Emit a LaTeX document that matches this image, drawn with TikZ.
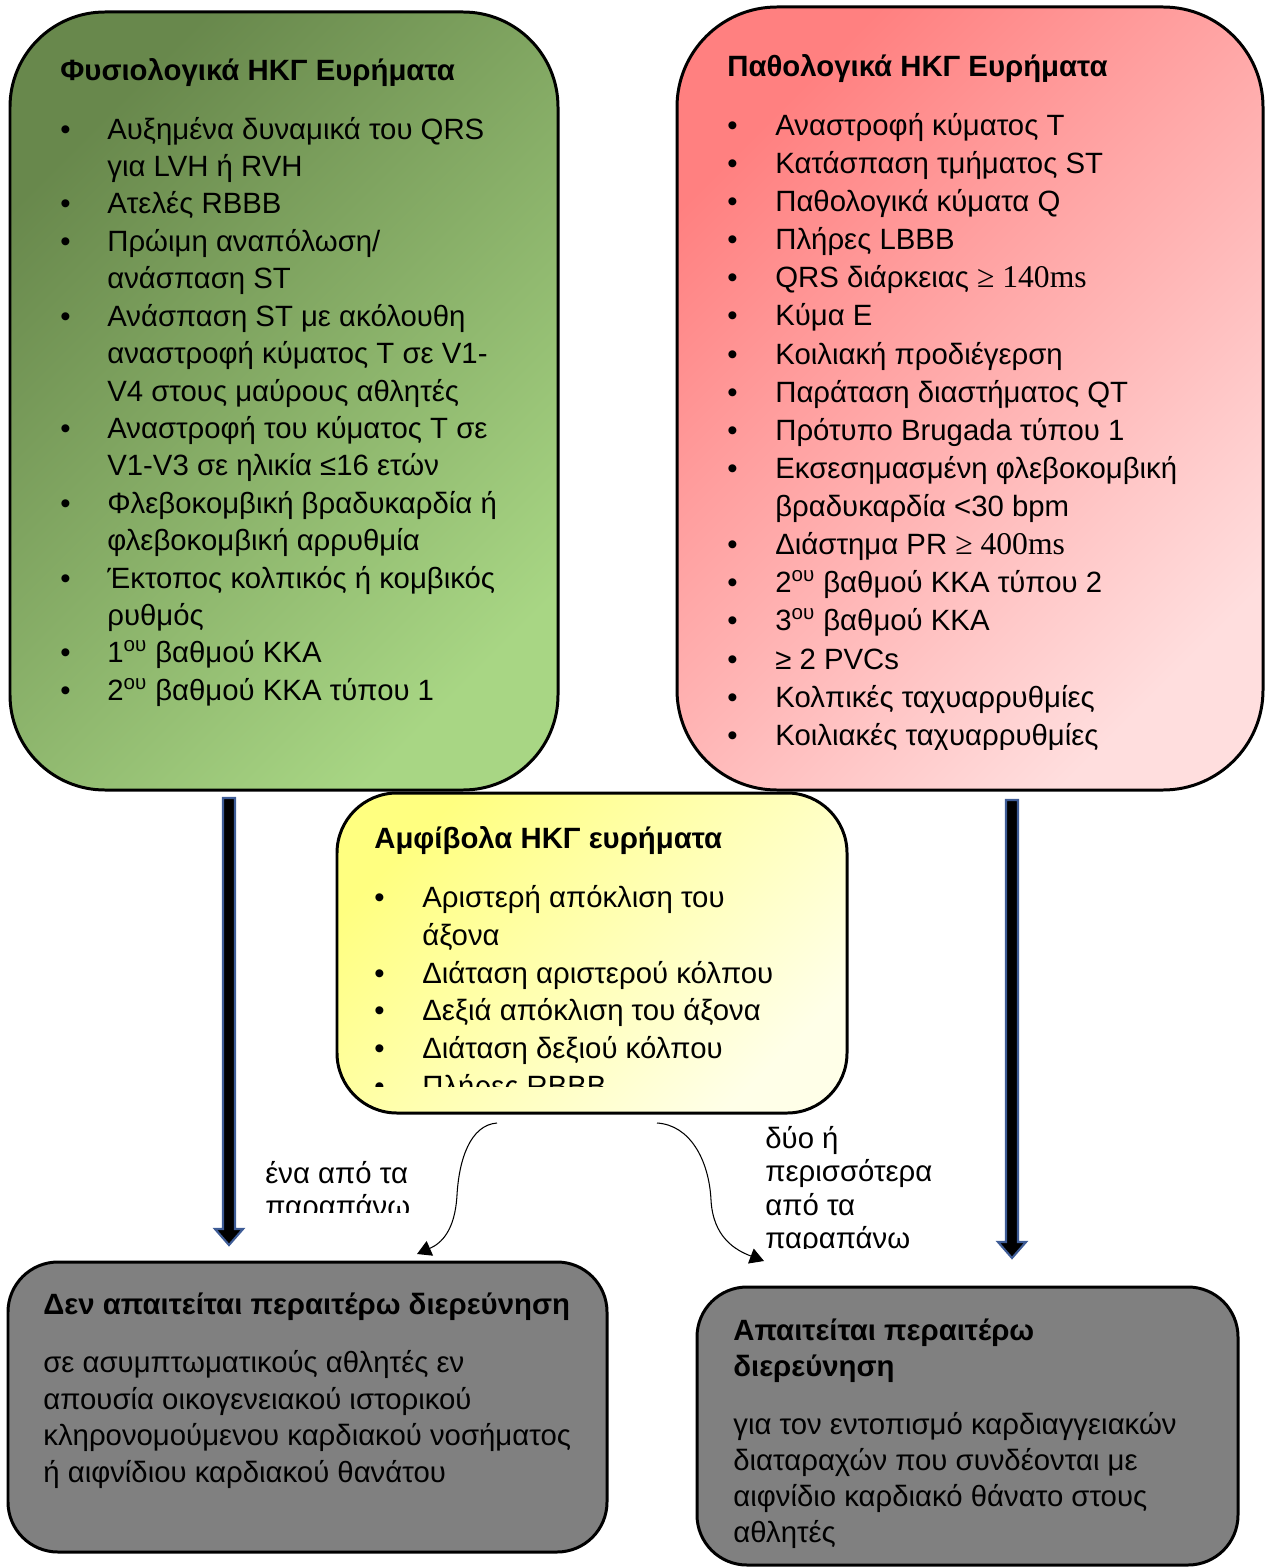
\documentclass[tikz,border=0pt]{standalone}
\usepackage{fontspec}
\setmainfont{Liberation Sans}
\newfontfamily\mathfnt{Liberation Serif}
\usetikzlibrary{fit, calc, arrows.meta}

\definecolor{greendark}{RGB}{104,136,76}
\definecolor{greenlight}{RGB}{168,214,132}
\definecolor{reddark}{RGB}{255,128,128}
\definecolor{redlight}{RGB}{255,222,222}
\definecolor{yeldark}{RGB}{255,255,128}
\definecolor{yellight}{RGB}{255,255,232}
\definecolor{boxgrey}{RGB}{128,128,128}
\definecolor{arrblue}{RGB}{62,92,150}

\tikzset{
  box/.style={draw=black, line width=1.7pt, inner sep=0pt},
  txt/.style={anchor=north west, inner sep=0pt, align=left},
  blockarr/.style={fill=black, draw=arrblue, line width=1.2pt},
  conn/.style={line width=0.6pt, -{Triangle[length=8pt,width=9pt]}},
}
\newcommand{\bl}{\textbullet}
\newcommand{\sz}[1]{\fontsize{16.7}{#1}\selectfont}

\begin{document}
\begin{tikzpicture}[x=0.02cm, y=-0.02cm]
\useasboundingbox (0,0) rectangle (1266,1567);

% boxes
\node[box, rounded corners=1.9cm, fit={(10,12) (558,790)}, top color=greendark, bottom color=greenlight, shading angle=45] (fys) {};
\node[box, rounded corners=2cm, fit={(677,7) (1263,790)}, top color=reddark, bottom color=redlight, shading angle=45] (path) {};
\node[box, rounded corners=1.2cm, fit={(337,793) (847,1113)}, top color=yeldark, bottom color=yellight, shading angle=45] (amf) {};
\node[box, rounded corners=1cm, fit={(8,1262) (607,1552)}, fill=boxgrey] (oxi) {};
\node[box, rounded corners=1cm, fit={(697,1287) (1238,1565)}, fill=boxgrey] (nai) {};

% box texts
\node[txt] (fystxt) at (60,54) {\sz{21.3}%
\begin{tabular}{@{}p{0.94cm}@{}l@{}}
\multicolumn{2}{@{}l@{}}{\bfseries Φυσιολογικά ΗΚΓ Ευρήματα}\\[12pt]
\bl & Αυξημένα δυναμικά του QRS\\
    & για LVH ή RVH\\
\bl & Ατελές RBBB\\
\bl & Πρώιμη αναπόλωση/\\
    & ανάσπαση ST\\
\bl & Ανάσπαση ST με ακόλουθη\\
    & αναστροφή κύματος T σε V1-\\
    & V4 στους μαύρους αθλητές\\
\bl & Αναστροφή του κύματος T σε\\
    & V1-V3 σε ηλικία ≤16 ετών\\
\bl & Φλεβοκομβική βραδυκαρδία ή\\
    & φλεβοκομβική αρρυθμία\\
\bl & Έκτοπος κολπικός ή κομβικός\\
    & ρυθμός\\
\bl & 1\textsuperscript{ου} βαθμού ΚΚΑ\\
\bl & 2\textsuperscript{ου} βαθμού ΚΚΑ τύπου 1\\
\end{tabular}};

\begin{scope}
\clip (677,0) rectangle (1266,749);
\node[txt] (pathtxt) at (727,49) {\sz{21.7}%
\begin{tabular}{@{}p{0.96cm}@{}l@{}}
\multicolumn{2}{@{}l@{}}{\bfseries Παθολογικά ΗΚΓ Ευρήματα}\\[12pt]
\bl & Αναστροφή κύματος T\\
\bl & Κατάσπαση τμήματος ST\\
\bl & Παθολογικά κύματα Q\\
\bl & Πλήρες LBBB\\
\bl & QRS διάρκειας {\mathfnt\fontsize{18}{21.7}\selectfont ≥ 140ms}\\
\bl & Κύμα Ε\\
\bl & Κοιλιακή προδιέγερση\\
\bl & Παράταση διαστήματος QT\\
\bl & Πρότυπο Brugada τύπου 1\\
\bl & Εκσεσημασμένη φλεβοκομβική\\
    & βραδυκαρδία <30 bpm\\
\bl & Διάστημα PR {\mathfnt\fontsize{18}{21.7}\selectfont ≥ 400ms}\\
\bl & 2\textsuperscript{ου} βαθμού ΚΚΑ τύπου 2\\
\bl & 3\textsuperscript{ου} βαθμού ΚΚΑ\\
\bl & ≥ 2 PVCs\\
\bl & Κολπικές ταχυαρρυθμίες\\
\bl & Κοιλιακές ταχυαρρυθμίες\\
\end{tabular}};
\end{scope}

\begin{scope}
\clip (337,790) rectangle (847,1086);
\node[txt] (amftxt) at (374,822) {\sz{21.5}%
\begin{tabular}{@{}p{0.96cm}@{}l@{}}
\multicolumn{2}{@{}l@{}}{\bfseries Αμφίβολα ΗΚΓ ευρήματα}\\[12pt]
\bl & Αριστερή απόκλιση του\\
    & άξονα\\
\bl & Διάταση αριστερού κόλπου\\
\bl & Δεξιά απόκλιση του άξονα\\
\bl & Διάταση δεξιού κόλπου\\
\bl & Πλήρες RBBB\\
\end{tabular}};
\end{scope}

\node[txt] (oxitxt) at (43,1289) {\sz{20.8}%
\begin{tabular}{@{}l@{}}
\bfseries Δεν απαιτείται περαιτέρω διερεύνηση\\[12pt]
σε ασυμπτωματικούς αθλητές εν\\
απουσία οικογενειακού ιστορικού\\
κληρονομούμενου καρδιακού νοσήματος\\
ή αιφνίδιου καρδιακού θανάτου\\
\end{tabular}};

\node[txt] (naitxt) at (733,1315) {\sz{20.6}%
\begin{tabular}{@{}l@{}}
\bfseries Απαιτείται περαιτέρω\\
\bfseries διερεύνηση\\[12pt]
για τον εντοπισμό καρδιαγγειακών\\
διαταραχών που συνδέονται με\\
αιφνίδιο καρδιακό θάνατο στους\\
αθλητές\\
\end{tabular}};

% block arrows
\coordinate (fysbot) at (229,798);
\coordinate (fysend) at (229,1245);
\coordinate (pathbot) at (1012,800);
\coordinate (pathend) at (1012,1258);
\draw[blockarr] ($(fysbot)+(-6,0)$) -- ($(fysend)+(-6,-16)$) -- ($(fysend)+(-14,-16)$) -- (fysend)
  -- ($(fysend)+(14,-16)$) -- ($(fysend)+(6,-16)$) -- ($(fysbot)+(6,0)$) -- cycle;
\draw[blockarr] ($(pathbot)+(-6,0)$) -- ($(pathend)+(-6,-16)$) -- ($(pathend)+(-14,-16)$) -- (pathend)
  -- ($(pathend)+(14,-16)$) -- ($(pathend)+(6,-16)$) -- ($(pathbot)+(6,0)$) -- cycle;

% curved arrows
\coordinate (amfl) at (497,1123);
\coordinate (oxiend) at (417,1254);
\coordinate (amfr) at (657,1123);
\coordinate (naiend) at (764,1261);
\draw[conn] (amfl) .. controls (470,1125) and (459,1160) .. (457,1195)
  .. controls (455,1230) and (442,1243) .. (oxiend);
\draw[conn] (amfr) .. controls (690,1125) and (709,1160) .. (711,1200)
  .. controls (713,1237) and (735,1250) .. (naiend);

% labels
\begin{scope}
\clip (250,1140) rectangle (420,1212);
\node[txt] (lblone) at (265,1160) {\sz{18.9}%
\begin{tabular}{@{}l@{}}
ένα από τα\\
παραπάνω\\
\end{tabular}};
\end{scope}
\begin{scope}
\clip (750,1115) rectangle (960,1248);
\node[txt] (lbltwo) at (765,1125) {\sz{18.9}%
\begin{tabular}{@{}l@{}}
δύο ή\\
περισσότερα\\
από τα\\
παραπάνω\\
\end{tabular}};
\end{scope}
\end{tikzpicture}
\end{document}
